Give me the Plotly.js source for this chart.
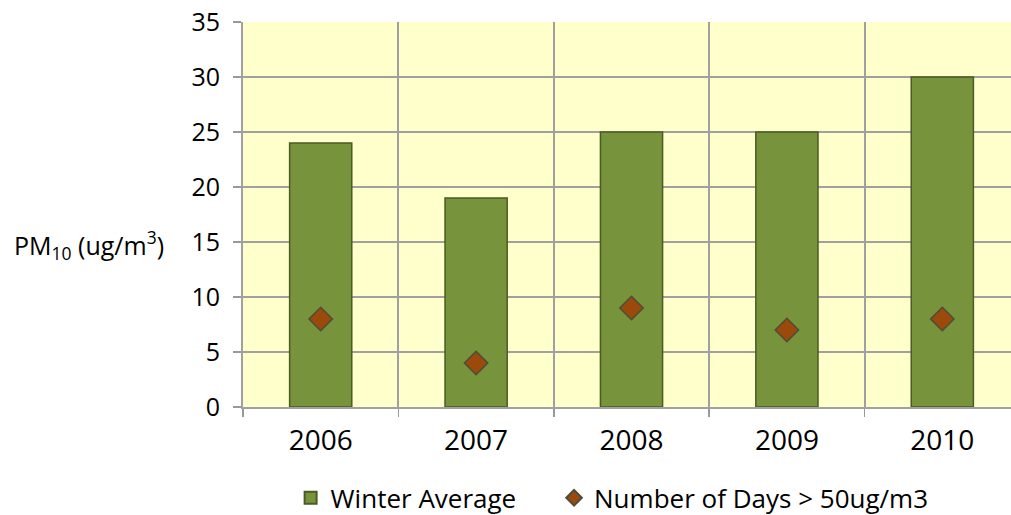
<!DOCTYPE html>
<html>
<head>
<meta charset="utf-8">
<script src="https://cdn.plot.ly/plotly-3.0.1.min.js"></script>
<style>html,body{margin:0;padding:0;background:#fff;}#chart{width:1011px;height:515px;}</style>
</head>
<body>
<div id="chart"></div>
<script>
const years = ["2006", "2007", "2008", "2009", "2010"];
const winterAverage = [24, 19, 25, 25, 30];
const daysOver50 = [8, 4, 9, 7, 8];
const yTicks = [0, 5, 10, 15, 20, 25, 30, 35];

const FONT = "Open Sans, DejaVu Sans, sans-serif";

const traces = [
  {
    type: "bar",
    name: "Winter Average",
    legend: "legend",
    x: years,
    y: winterAverage,
    width: 0.4,
    marker: {color: "#77933C", line: {color: "#4B5B24", width: 1.5}}
  },
  {
    type: "scatter",
    mode: "markers",
    name: "Number of Days > 50ug/m3",
    legend: "legend2",
    x: years,
    y: daysOver50,
    marker: {symbol: "diamond", size: 18, color: "#9C4A0B", line: {color: "#4D4D3A", width: 1.5}}
  }
];

const legendBase = {
  orientation: "h",
  xanchor: "left",
  y: -0.236,
  yanchor: "middle",
  font: {family: FONT, size: 26},
  itemsizing: "constant",
  tracegroupgap: 0,
  bgcolor: "rgba(0,0,0,0)"
};

const layout = {
  width: 1011,
  height: 515,
  margin: {l: 243, r: 0, t: 22, b: 108, autoexpand: false},
  paper_bgcolor: "#ffffff",
  plot_bgcolor: "#FFFFCC",
  font: {family: FONT, size: 26, color: "#000"},
  showlegend: true,
  xaxis: {
    type: "category",
    range: [-0.5, 4.442],
    tickson: "boundaries",
    ticks: "outside",
    ticklen: 8,
    tickwidth: 1.5,
    tickcolor: "#999",
    showgrid: true,
    gridcolor: "#A0A0A0",
    gridwidth: 2,
    showline: true,
    linecolor: "#A0A0A0",
    linewidth: 2,
    ticklabelstandoff: 7,
    tickfont: {family: FONT, size: 28},
    fixedrange: true
  },
  yaxis: {
    range: [0, 35],
    tickvals: yTicks,
    ticktext: yTicks.map(String),
    ticks: "outside",
    ticklen: 8,
    tickwidth: 1.5,
    tickcolor: "#999",
    showgrid: true,
    gridcolor: "#A0A0A0",
    gridwidth: 2,
    zeroline: false,
    showline: true,
    linecolor: "#A0A0A0",
    linewidth: 2,
    ticklabelstandoff: 8,
    tickfont: {family: FONT, size: 25},
    fixedrange: true
  },
  legend: Object.assign({}, legendBase, {x: 0.062}),
  legend2: Object.assign({}, legendBase, {x: 0.405}),
  annotations: [{
    xref: "paper", yref: "paper",
    x: -0.1, y: 0.42,
    xanchor: "right", yanchor: "middle",
    showarrow: false,
    text: "PM<sub>10</sub> (ug/m<sup>3</sup>)",
    font: {family: FONT, size: 25, color: "#000"}
  }]
};

Plotly.newPlot("chart", traces, layout, {displayModeBar: false, staticPlot: true});
</script>
</body>
</html>
